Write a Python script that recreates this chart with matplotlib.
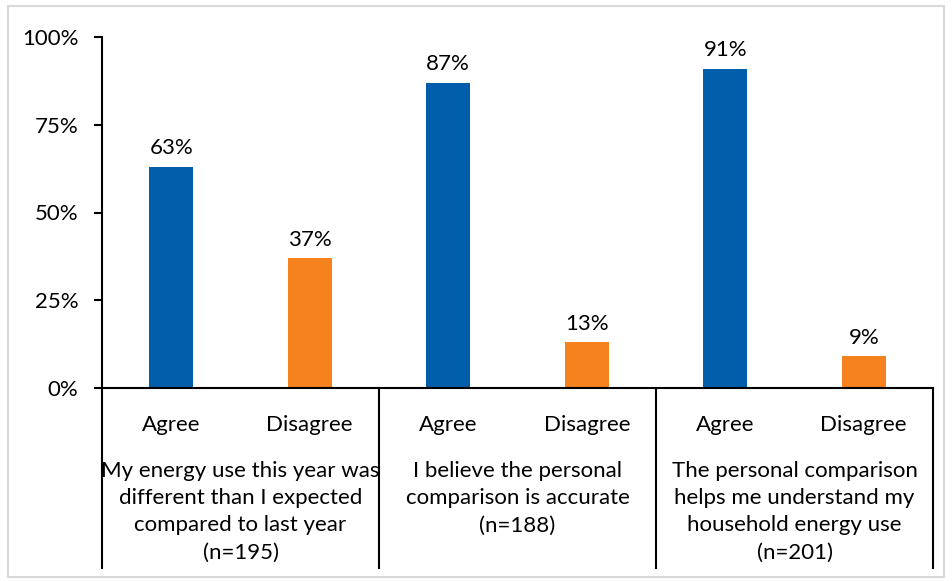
import matplotlib
matplotlib.use("Agg")
import matplotlib.pyplot as plt
from matplotlib.lines import Line2D

plt.rcParams['font.family'] = ['Lato', 'DejaVu Sans']

groups = ["My energy use this year was\ndifferent than I expected\ncompared to last year\n(n=195)",
          "I believe the personal\ncomparison is accurate\n(n=188)",
          "The personal comparison\nhelps me understand my\nhousehold energy use\n(n=201)"]
responses = ["Agree", "Disagree"]
agree = [63, 87, 91]
disagree = [37, 13, 9]
yticks = [0, 25, 50, 75, 100]
ytick_labels = ["0%", "25%", "50%", "75%", "100%"]

blue = "#005EAB"
orange = "#F5821F"

W, H = 952, 581
fig = plt.figure(figsize=(W/100, H/100), dpi=100)
ax_l, ax_r, ax_t, ax_b = 102, 933, 37, 388
ax = fig.add_axes([ax_l/W, 1-ax_b/H, (ax_r-ax_l)/W, (ax_b-ax_t)/H])

# figure border
fig.add_artist(plt.Rectangle((8/W, 1-577/H), (944-8)/W, (577-6)/H, transform=fig.transFigure,
                             fill=False, edgecolor="#D9D9D9", lw=1.5))

n = len(groups)
xs_a = [2*i for i in range(n)]
xs_d = [2*i+1 for i in range(n)]
bw = 0.32
ax.bar(xs_a, agree, width=bw, color=blue)
ax.bar(xs_d, disagree, width=bw, color=orange)
fs = 16
for x, v in zip(xs_a, agree):
    ax.text(x, v+2.4, f"{v}%", ha="center", va="bottom", fontsize=fs)
for x, v in zip(xs_d, disagree):
    ax.text(x, v+2.4, f"{v}%", ha="center", va="bottom", fontsize=fs)

ax.set_xlim(-0.5, 2*n-0.5)
ax.set_ylim(0, 100)
ax.set_yticks(yticks)
ax.set_yticklabels(ytick_labels, fontsize=fs)
ax.tick_params(axis="y", length=6, width=1.5, pad=11)
ax.set_xticks([])
for s in ["top", "right"]:
    ax.spines[s].set_visible(False)
ax.spines["left"].set_linewidth(1.5)
ax.spines["bottom"].set_linewidth(1.5)

# separators (extend below axis)
bottom_y = -(568-388)/(388-37)
for b in range(n+1):
    xb = b/n
    ax.add_line(Line2D([xb, xb], [0, bottom_y], transform=ax.transAxes, color="black",
                       lw=1.5, clip_on=False))

trans = ax.get_xaxis_transform()
for i in range(n):
    for j, r in enumerate(responses):
        ax.text(2*i+j, -(425-388)/(388-37), r, transform=trans, ha="center", va="center", fontsize=fs)
    ax.text(2*i+0.5, -(461-388)/(388-37), groups[i], transform=trans, ha="center", va="top",
            fontsize=fs, linespacing=1.45)

fig.savefig("out.png", dpi=100)
